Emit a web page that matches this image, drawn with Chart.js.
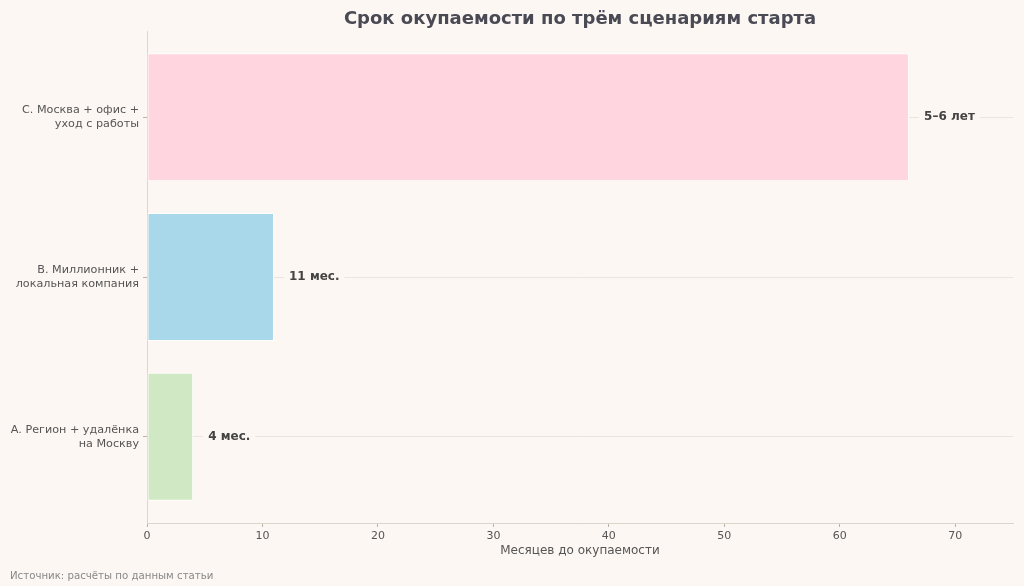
<!DOCTYPE html>
<html>
<head>
<meta charset="utf-8">
<script src="https://cdn.jsdelivr.net/npm/chart.js@4.4.1/dist/chart.umd.min.js"></script>
<style>
    html, body { margin: 0; padding: 0; background: #fcf7f2; }
    #wrap { width: 1024px; height: 586px; }
</style>
</head>
<body>
<div id="wrap"><canvas id="chart" width="1024" height="586"></canvas></div>
<script>
// bottom-to-top order (index 0 sits at the bottom)
const categories = [
    ['А. Регион + удалёнка', 'на Москву'],
    ['В. Миллионник +', 'локальная компания'],
    ['С. Москва + офис +', 'уход с работы']
];
const months = [4, 11, 66];
const valueLabels = ['4 мес.', '11 мес.', '5–6 лет'];
const barColors = ['#d0e8c4', '#a8d8ea', '#ffd6e0'];
const xTicks = [0, 10, 20, 30, 40, 50, 60, 70];

const chartTitle = 'Срок окупаемости по трём сценариям старта';
const xTitle = 'Месяцев до окупаемости';
const sourceNote = 'Источник: расчёты по данным статьи';

const FONT = "'DejaVu Sans', sans-serif";
const BG = '#fcf7f2';

const extras = {
    id: 'extras',
    beforeDraw(chart) {
        const ctx = chart.ctx;
        ctx.save();
        ctx.fillStyle = BG;
        ctx.fillRect(0, 0, chart.width, chart.height);
        ctx.restore();
    },
    afterDatasetsDraw(chart) {
        const ctx = chart.ctx;
        const area = chart.chartArea;
        const meta = chart.getDatasetMeta(0);
        ctx.save();
        ctx.font = 'bold 12px ' + FONT;
        ctx.textBaseline = 'middle';
        meta.data.forEach((bar, i) => {
            const txt = valueLabels[i];
            const x = bar.x + 15;
            const w = ctx.measureText(txt).width;
            ctx.fillStyle = BG;
            ctx.fillRect(x - 5, bar.y - 9, w + 10, 18);
            ctx.fillStyle = '#444444';
            ctx.fillText(txt, x, bar.y);
        });

        const cx = (area.left + area.right) / 2;
        ctx.textAlign = 'center';
        ctx.fillStyle = '#4a4a55';
        ctx.font = 'bold 18px ' + FONT;
        ctx.fillText(chartTitle, cx, 19);

        ctx.fillStyle = '#555555';
        ctx.font = '12px ' + FONT;
        ctx.fillText(xTitle, cx, 551);

        ctx.textAlign = 'left';
        ctx.fillStyle = '#888888';
        ctx.font = '10.2px ' + FONT;
        ctx.fillText(sourceNote, 10, 576);
        ctx.restore();
    }
};

new Chart(document.getElementById('chart'), {
    type: 'bar',
    data: {
        datasets: [{
            data: months.map((m, i) => ({ x: m, y: i })),
            backgroundColor: barColors,
            borderColor: '#ffffff',
            borderWidth: 1,
            borderSkipped: false,
            barPercentage: 0.8,
            categoryPercentage: 1
        }]
    },
    options: {
        indexAxis: 'y',
        responsive: false,
        animation: false,
        layout: { padding: { top: 31, right: 11, left: 0, bottom: 0 } },
        plugins: {
            legend: { display: false },
            tooltip: { enabled: false }
        },
        scales: {
            x: {
                type: 'linear',
                min: 0,
                max: 75,
                afterBuildTicks: s => { s.ticks = xTicks.map(v => ({ value: v })); },
                afterFit: s => { s.height = 63; },
                border: { color: '#ddd5cc' },
                grid: { drawOnChartArea: false, drawTicks: true, tickLength: 4, tickColor: '#bbb3aa' },
                ticks: { color: '#555555', padding: 3, font: { family: FONT, size: 11 } }
            },
            y: {
                type: 'linear',
                min: -0.54,
                max: 2.54,
                offset: false,
                afterBuildTicks: s => { s.ticks = categories.map((c, i) => ({ value: i })); },
                afterFit: s => { s.width = 147; },
                border: { color: '#ddd5cc' },
                grid: { offset: false, color: '#ebe5df', lineWidth: 1, drawTicks: true, tickLength: 4, tickColor: '#bbb3aa' },
                ticks: {
                    color: '#555555',
                    padding: 4,
                    font: { family: FONT, size: 11.2, lineHeight: 1.25 },
                    callback: v => categories[v]
                }
            }
        }
    },
    plugins: [extras]
});
</script>
</body>
</html>
